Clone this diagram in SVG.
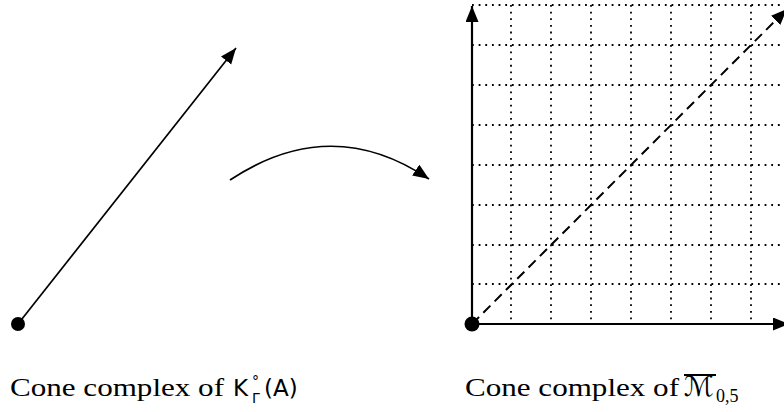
<svg xmlns="http://www.w3.org/2000/svg" width="784" height="412" viewBox="0 0 784 412">
<style>
.axis{stroke:#000;stroke-width:2.2;fill:none}
.thin{stroke:#000;stroke-width:1.7;fill:none}
.grid{stroke:#000;stroke-width:1.8;stroke-dasharray:1.8 4.85;fill:none}
.dash{stroke:#000;stroke-width:2;stroke-dasharray:10 6;fill:none}
.lbl{font-family:"Liberation Serif","DejaVu Serif",serif;font-size:26px;fill:#000}
.sans{font-family:"DejaVu Sans","Liberation Sans",sans-serif;fill:#000}
</style>
<defs>
<marker id="ah" markerUnits="userSpaceOnUse" markerWidth="17" markerHeight="14" refX="16" refY="6.5" orient="auto"><path d="M0,0 L16,6.5 L0,13 z" fill="#000"/></marker>
</defs>
<g id="grid">
<path class="grid" d="M472,5H784M472,45H784M472,85H784M472,125H784M472,165H784M472,205H784M472,245H784M472,284H784"/>
<path class="grid" d="M511,5V324M551,5V324M591,5V324M631,5V324M671,5V324M711,5V324M751,5V324"/>
</g>
<g id="connectors">
<line class="thin" x1="18" y1="324" x2="236" y2="48" marker-end="url(#ah)"/>
<path class="thin" d="M230,180 Q331,113 429,179" marker-end="url(#ah)"/>
<line class="axis" x1="472" y1="324" x2="472" y2="6" marker-end="url(#ah)"/>
<line class="axis" x1="472" y1="324" x2="789" y2="324" marker-end="url(#ah)"/>
<line class="dash" x1="472" y1="324" x2="787" y2="9" marker-end="url(#ah)"/>
</g>
<g id="node-left-origin"><circle cx="18" cy="324" r="7" fill="#000"/></g>
<g id="node-right-origin"><circle cx="472" cy="324" r="7.5" fill="#000"/></g>
<g id="label-left">
<text class="lbl" x="10" y="396" textLength="214" lengthAdjust="spacingAndGlyphs">Cone complex of</text>
<text class="sans" x="233" y="396" font-size="23">K</text>
<text class="sans" x="252" y="386" font-size="14">°</text>
<text class="sans" x="252" y="403" font-size="14">Γ</text>
<text class="sans" x="264" y="396" font-size="23">(A)</text>
</g>
<g id="label-right">
<text class="lbl" x="465" y="396" textLength="214" lengthAdjust="spacingAndGlyphs">Cone complex of</text>
<text x="684" y="396" font-family="DejaVu Sans, sans-serif" font-size="28" fill="#000">ℳ</text>
<line x1="684" y1="375" x2="716" y2="375" stroke="#000" stroke-width="2"/>
<text class="lbl" x="716" y="402" style="font-size:18px">0,5</text>
</g>
</svg>
